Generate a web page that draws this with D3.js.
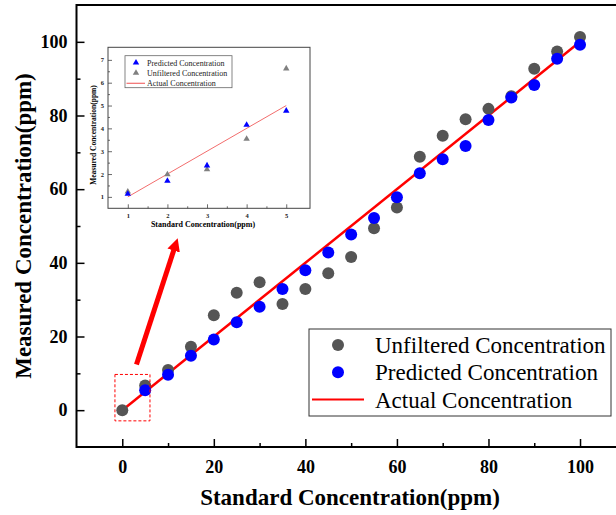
<!DOCTYPE html>
<html>
<head>
<meta charset="utf-8">
<script src="https://cdn.jsdelivr.net/npm/d3@7"></script>
<style>
    body { margin: 0; background: #fff; }
    #chart { width: 616px; height: 515px; }
    text { font-family: "Liberation Serif", "Times New Roman", serif; }
</style>
</head>
<body>
<div id="chart"></div>
<script>
// main chart data
const stdConc = [0, 5, 10, 15, 20, 25, 30, 35, 40, 45, 50, 55, 60, 65, 70, 75, 80, 85, 90, 95, 100];
const unfilteredConc = [0, 6.7, 10.9, 17.2, 25.8, 31.9, 34.7, 28.8, 32.9, 37.2, 41.6, 49.4, 55.0, 68.8, 74.5, 79.0, 81.8, 85.2, 92.7, 97.4, 101.3];
const predictedConc = [null, 5.4, 9.6, 14.8, 19.2, 23.9, 28.1, 32.9, 38.0, 42.8, 47.7, 52.2, 57.8, 64.3, 68.1, 71.7, 78.8, 84.9, 88.3, 95.4, 99.2];
const actualLine = [0, 100];
const mainTicks = [0, 20, 40, 60, 80, 100];
const mainMinorTicks = [10, 30, 50, 70, 90];

// inset (zoom on the low range)
const insetStd = [1, 2, 3, 4, 5];
const insetPredicted = [1.13, 1.70, 2.37, 4.15, 4.77];
const insetUnfiltered = [1.23, 1.98, 2.20, 3.54, 6.62];
const insetActual = [1, 5];
const insetXTicks = [1, 2, 3, 4, 5];
const insetXMinor = [1.5, 2.5, 3.5, 4.5];
const insetYTicks = [1, 2, 3, 4, 5, 6, 7];
const insetYMinor = [1.5, 2.5, 3.5, 4.5, 5.5, 6.5];

const legendMain = ["Unfiltered Concentration", "Predicted Concentration", "Actual Concentration"];
const legendInset = ["Predicted Concentration", "Unfiltered Concentration", "Actual Concentration"];

const GRAY = "#555555", BLUE = "#0000ff", RED = "#ff0000", PINK = "#f26d6d";

const svg = d3.select("#chart").append("svg")
    .attr("width", 616)
    .attr("height", 515);

// ---------- main plot ----------
const x = d3.scaleLinear().domain([-10, 110]).range([76.5, 625.8]);
const y = d3.scaleLinear().domain([-10, 110]).range([447, 5]);

const mainData = stdConc.map((s, i) => ({s, u: unfilteredConc[i], p: predictedConc[i]}));

// axes (ticks pointing inwards)
const xAxis = svg.append("g")
    .attr("transform", `translate(0,${y(-10)})`)
    .call(d3.axisBottom(x).tickValues(mainTicks).tickSizeInner(-8).tickSizeOuter(0).tickPadding(13));
const xMinor = svg.append("g")
    .attr("transform", `translate(0,${y(-10)})`)
    .call(d3.axisBottom(x).tickValues(mainMinorTicks).tickSizeInner(-4).tickSizeOuter(0).tickFormat(""));
const yAxis = svg.append("g")
    .attr("transform", `translate(${x(-10)},0)`)
    .call(d3.axisLeft(y).tickValues(mainTicks).tickSizeInner(-8).tickSizeOuter(0).tickPadding(9));
const yMinor = svg.append("g")
    .attr("transform", `translate(${x(-10)},0)`)
    .call(d3.axisLeft(y).tickValues(mainMinorTicks).tickSizeInner(-4).tickSizeOuter(0).tickFormat(""));

[xAxis, xMinor, yAxis, yMinor].forEach(g => {
    g.select(".domain").remove();
    g.selectAll("line").attr("stroke", "#000").attr("stroke-width", 1.5);
    g.selectAll("text")
        .attr("font-family", "Liberation Serif")
        .attr("font-weight", "bold")
        .attr("font-size", 18)
        .attr("fill", "#000");
});

// frame
svg.append("rect")
    .attr("x", x(-10)).attr("y", y(110))
    .attr("width", x(110) - x(-10)).attr("height", y(-10) - y(110))
    .attr("fill", "none").attr("stroke", "#000").attr("stroke-width", 2);

// axis titles
svg.append("text")
    .attr("x", 350).attr("y", 505)
    .attr("text-anchor", "middle")
    .attr("font-weight", "bold").attr("font-size", 23)
    .text("Standard Concentration(ppm)");

svg.append("text")
    .attr("transform", "translate(31,226) rotate(-90)")
    .attr("text-anchor", "middle")
    .attr("font-weight", "bold").attr("font-size", 23)
    .text("Measured Concentration(ppm)");

// actual line
svg.append("line")
    .attr("x1", x(actualLine[0])).attr("y1", y(actualLine[0]))
    .attr("x2", x(actualLine[1])).attr("y2", y(actualLine[1]))
    .attr("stroke", RED).attr("stroke-width", 2.5);

// points
svg.selectAll(".unf")
    .data(mainData)
    .join("circle")
    .attr("class", "unf")
    .attr("cx", d => x(d.s)).attr("cy", d => y(d.u))
    .attr("r", 6).attr("fill", GRAY);

svg.selectAll(".pred")
    .data(mainData.filter(d => d.p !== null))
    .join("circle")
    .attr("class", "pred")
    .attr("cx", d => x(d.s)).attr("cy", d => y(d.p))
    .attr("r", 6).attr("fill", BLUE);

// dashed box around the low range + arrow to the inset
svg.append("rect")
    .attr("x", x(-1.6)).attr("y", y(9.7))
    .attr("width", x(6.05) - x(-1.6)).attr("height", y(-2.9) - y(9.7))
    .attr("fill", "none").attr("stroke", RED)
    .attr("stroke-width", 1).attr("stroke-dasharray", "3,2");

svg.append("defs").append("marker")
    .attr("id", "head")
    .attr("viewBox", "0 0 10 10")
    .attr("refX", 2).attr("refY", 5)
    .attr("markerWidth", 2.6).attr("markerHeight", 2.6)
    .attr("orient", "auto")
    .append("path").attr("d", "M0,0L10,5L0,10Z").attr("fill", RED);

svg.append("line")
    .attr("x1", x(3.1)).attr("y1", y(12.4))
    .attr("x2", x(11.4)).attr("y2", y(44.0))
    .attr("stroke", RED).attr("stroke-width", 5)
    .attr("marker-end", "url(#head)");

// main legend
const leg = svg.append("g");
leg.append("rect")
    .attr("x", 309).attr("y", 329).attr("width", 302).attr("height", 87)
    .attr("fill", "#fff").attr("stroke", "#333").attr("stroke-width", 1);
legendMain.forEach((name, i) => {
    const ly = 345 + i * 27.3;
    if (i < 2) {
        leg.append("circle").attr("cx", 338).attr("cy", ly).attr("r", 6)
            .attr("fill", i === 0 ? GRAY : BLUE);
    } else {
        leg.append("line").attr("x1", 312).attr("x2", 364).attr("y1", ly).attr("y2", ly)
            .attr("stroke", RED).attr("stroke-width", 2);
    }
    leg.append("text").attr("x", 375).attr("y", ly + 8)
        .attr("font-size", 23).attr("fill", "#000")
        .text(name);
});

// ---------- inset ----------
const ix = d3.scaleLinear().domain([0.5, 5.6]).range([108, 310]);
const iy = d3.scaleLinear().domain([0.5, 7.55]).range([208.3, 47.3]);

const inset = svg.append("g");
inset.append("rect")
    .attr("x", ix(0.5)).attr("y", iy(7.55))
    .attr("width", ix(5.6) - ix(0.5)).attr("height", iy(0.5) - iy(7.55))
    .attr("fill", "#fff").attr("stroke", "#444").attr("stroke-width", 1);

const ixAxis = inset.append("g")
    .attr("transform", `translate(0,${iy(0.5)})`)
    .call(d3.axisBottom(ix).tickValues(insetXTicks).tickFormat(d3.format("d"))
        .tickSizeInner(-4).tickSizeOuter(0).tickPadding(5));
const ixMinor = inset.append("g")
    .attr("transform", `translate(0,${iy(0.5)})`)
    .call(d3.axisBottom(ix).tickValues(insetXMinor).tickSizeInner(-2).tickSizeOuter(0).tickFormat(""));
const iyAxis = inset.append("g")
    .attr("transform", `translate(${ix(0.5)},0)`)
    .call(d3.axisLeft(iy).tickValues(insetYTicks).tickFormat(d3.format("d"))
        .tickSizeInner(-4).tickSizeOuter(0).tickPadding(4));
const iyMinor = inset.append("g")
    .attr("transform", `translate(${ix(0.5)},0)`)
    .call(d3.axisLeft(iy).tickValues(insetYMinor).tickSizeInner(-2).tickSizeOuter(0).tickFormat(""));

[ixAxis, ixMinor, iyAxis, iyMinor].forEach(g => {
    g.select(".domain").remove();
    g.selectAll("line").attr("stroke", "#444").attr("stroke-width", 0.8);
    g.selectAll("text")
        .attr("font-family", "Liberation Serif")
        .attr("font-weight", "bold")
        .attr("font-size", 6.5)
        .attr("fill", "#222");
});

inset.append("text")
    .attr("x", 203).attr("y", 227)
    .attr("text-anchor", "middle")
    .attr("font-weight", "bold").attr("font-size", 8)
    .text("Standard Concentration(ppm)");

inset.append("text")
    .attr("transform", "translate(96,135) rotate(-90)")
    .attr("text-anchor", "middle")
    .attr("font-weight", "bold").attr("font-size", 7.5)
    .text("Measured Concentration(ppm)");

inset.append("line")
    .attr("x1", ix(insetActual[0])).attr("y1", iy(insetActual[0]))
    .attr("x2", ix(insetActual[1])).attr("y2", iy(insetActual[1]))
    .attr("stroke", PINK).attr("stroke-width", 1);

const tri = d3.symbol().type(d3.symbolTriangle).size(18);
const insetData = insetStd.map((s, i) => ({s, u: insetUnfiltered[i], p: insetPredicted[i]}));

inset.selectAll(".iu")
    .data(insetData)
    .join("path")
    .attr("class", "iu")
    .attr("d", tri)
    .attr("transform", d => `translate(${ix(d.s)},${iy(d.u)})`)
    .attr("fill", "#808080");

inset.selectAll(".ip")
    .data(insetData)
    .join("path")
    .attr("class", "ip")
    .attr("d", tri)
    .attr("transform", d => `translate(${ix(d.s)},${iy(d.p)})`)
    .attr("fill", BLUE);

// inset legend
const ileg = inset.append("g");
ileg.append("rect")
    .attr("x", 125).attr("y", 55.7).attr("width", 107).attr("height", 32)
    .attr("fill", "#fff").attr("stroke", "#666").attr("stroke-width", 0.8);
legendInset.forEach((name, i) => {
    const ly = 62.7 + i * 10.3;
    if (i < 2) {
        ileg.append("path").attr("d", tri)
            .attr("transform", `translate(136,${ly})`)
            .attr("fill", i === 0 ? BLUE : "#808080");
    } else {
        ileg.append("line").attr("x1", 126.5).attr("x2", 145).attr("y1", ly).attr("y2", ly)
            .attr("stroke", PINK).attr("stroke-width", 1.2);
    }
    ileg.append("text").attr("x", 147).attr("y", ly + 2.8)
        .attr("font-size", 8).attr("fill", "#222")
        .text(name);
});
</script>
</body>
</html>
